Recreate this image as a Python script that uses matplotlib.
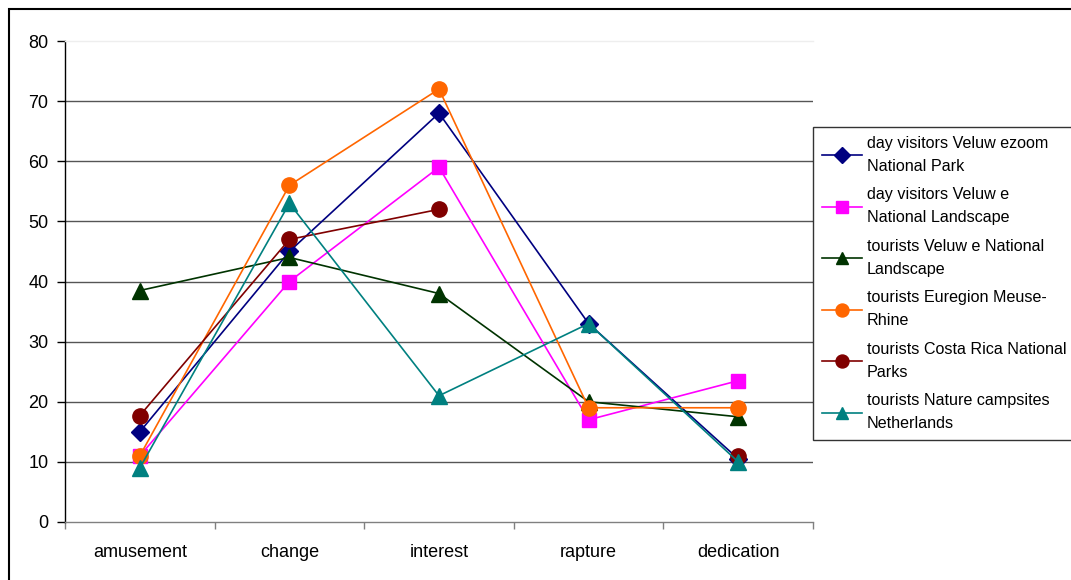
import numpy as np
import matplotlib.pyplot as plt
from matplotlib.patches import Rectangle

plt.rcParams['font.family'] = ['Liberation Sans', 'DejaVu Sans']

# Datos
categorias = ['amusement', 'change', 'interest', 'rapture', 'dedication']
veluwezoom_dia = [15, 45, 68, 33, 10.5]
veluwe_dia = [11, 40, 59, 17, 23.5]
veluwe_turistas = [38.5, 44, 38, 20, 17.5]
euregion = [11, 56, 72, 19, 19]
costa_rica = [17.7, 47, 52, np.nan, 11]
campings = [9, 53, 21, 33, 10]

series = [
    ('day visitors Veluw ezoom\nNational Park', veluwezoom_dia, '#000080', 'D', 9),
    ('day visitors Veluw e\nNational Landscape', veluwe_dia, '#FF00FF', 's', 10),
    ('tourists Veluw e National\nLandscape', veluwe_turistas, '#003300', '^', 11),
    ('tourists Euregion Meuse-\nRhine', euregion, '#FF6600', 'o', 11),
    ('tourists Costa Rica National\nParks', costa_rica, '#800000', 'o', 11),
    ('tourists Nature campsites\nNetherlands', campings, '#008080', '^', 11),
]

W, H = 1071, 580
fig = plt.figure(figsize=(W / 100, H / 100), dpi=100)
ax = fig.add_axes([65 / W, 1 - 522 / H, (813 - 65) / W, (522 - 41) / H])

x = np.arange(len(categorias))
for nombre, valores, color, marcador, tam in series:
    ax.plot(x, valores, color=color, lw=1.2, marker=marcador, markersize=tam,
            markeredgecolor=color, label=nombre, zorder=3)

# Ejes y rejilla
ax.set_xlim(-0.5, len(categorias) - 0.5)
ax.set_ylim(0, 80)
ax.set_yticks(np.arange(0, 81, 10))
for v in range(10, 80, 10):
    ax.axhline(v, color='#555555', lw=1, zorder=1)

ax.set_xticks(x)
ax.set_xticklabels(categorias)
ax.set_xticks(np.arange(-0.5, len(categorias)), minor=True)
ax.tick_params(axis='x', which='major', length=0, pad=16, labelsize=13)
ax.tick_params(axis='x', which='minor', length=5, color='#808080', width=1)
ax.tick_params(axis='y', length=6, width=1, pad=6, labelsize=13)

ax.spines['left'].set_color('black')
ax.spines['bottom'].set_color('#808080')
ax.spines['top'].set_color('#eeeeee')
ax.spines['right'].set_visible(False)
for s in ax.spines.values():
    s.set_linewidth(1)

# Leyenda (pegada al borde derecho, como en el original)
leg = ax.legend(loc='upper left', bbox_to_anchor=(813 / W, 1 - 127 / H),
                bbox_transform=fig.transFigure, borderaxespad=0,
                fontsize=11.6, frameon=True, fancybox=False, numpoints=1,
                markerscale=0.85, handlelength=2.5, handletextpad=0.3,
                labelspacing=0.85, borderpad=0.55)
leg.get_frame().set_edgecolor('black')
leg.get_frame().set_linewidth(1)
for t in leg.get_texts():
    t.set_linespacing(1.65)

# Marco exterior
fig.patches.append(Rectangle((9 / W, -0.1), 1.2, 1.1 - 9 / H, fill=False,
                             edgecolor='black', lw=1.5,
                             transform=fig.transFigure, figure=fig))

fig.savefig('out.png', dpi=100)
